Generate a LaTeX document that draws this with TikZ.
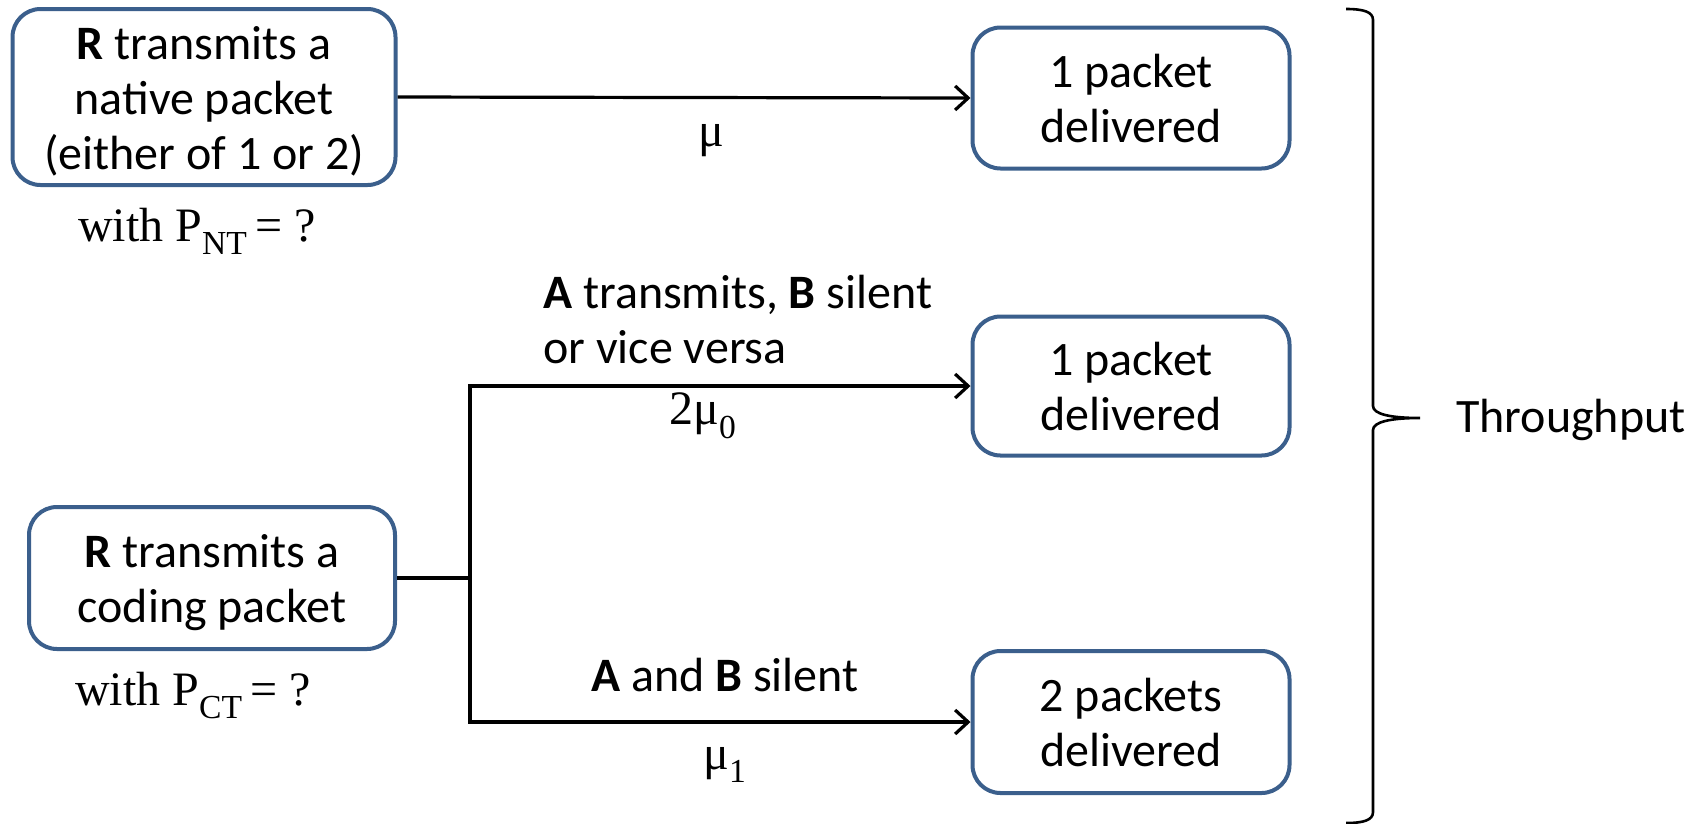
\documentclass[tikz,border=0pt]{standalone}
\usepackage{fontspec}
\setmainfont{Carlito}
\newfontfamily\tms{Liberation Serif}
\usetikzlibrary{arrows.meta}
\definecolor{boxblue}{HTML}{3B5F8C}
% taller first line, keeps the lines centred like the outcome boxes
\newcommand{\firstline}{\rule{0pt}{42pt}}

\tikzset{
  stepbox/.style={draw=boxblue, line width=4pt, rounded corners=28pt,
    fill=white, align=center, inner sep=0pt,
    font=\fontsize{48}{55}\selectfont},
  flow/.style={line width=3.2pt, line join=miter},
  arr/.style={flow, -{Straight Barb[length=13pt,width=24pt,line width=3.2pt]}},
  lbl/.style={font=\fontsize{48}{55}\selectfont, inner sep=0pt},
  mlbl/.style={font=\tms\fontsize{48}{55}\selectfont, inner sep=0pt},
  brace/.style={line width=2.6pt}
}

\begin{document}
\begin{tikzpicture}[x=1pt,y=-1pt]
\useasboundingbox (0,0) rectangle (1702,823);

% source boxes
\node[stepbox, minimum width=383pt, minimum height=176pt] (nt) at (204,97)
  {\firstline\textbf{R} transmits a\\native packet\\(either of 1 or 2)};
\node[stepbox, minimum width=366pt, minimum height=142pt] (ct) at (212,578)
  {\firstline\textbf{R} transmits a\\coding packet};

% outcome boxes
\node[stepbox, minimum width=317pt, minimum height=141pt] (o1) at (1131,98)
  {1 packet\\delivered};
\node[stepbox, minimum width=317pt, minimum height=139pt] (o2) at (1131,386)
  {1 packet\\delivered};
\node[stepbox, minimum width=317pt, minimum height=142pt] (o3) at (1131,722)
  {2 packets\\delivered};

% probabilities under the source boxes
\node[mlbl, anchor=base] (pnt) at (197,241) {with P\textsubscript{NT}\,= ?};
\node[mlbl, anchor=base] (pct) at (193,705) {with P\textsubscript{CT}\,= ?};

% connectors
\coordinate (j) at (470,578);
\draw[arr] (nt.east) -- (o1.west);
\draw[flow] (ct.east) -- (j);
\draw[arr] (j) |- (o2.west);
\draw[arr] (j) |- (o3.west);

% connector labels
\node[mlbl] (mu) at (711,141) {μ};
\node[lbl, anchor=west, align=left] (ab) at (543,320)
  {\textbf{A} transmits, \textbf{B} silent\\or vice versa};
\node[mlbl] (mu0) at (703,416) {2μ\textsubscript{0}};
\node[lbl] (sil) at (725,675) {\textbf{A} and \textbf{B} silent};
\node[mlbl] (mu1) at (725,765) {μ\textsubscript{1}};

% brace gathering the outcomes
\draw[brace] (1346,9) .. controls (1364,9) and (1373,12) .. (1373,20)
  -- (1373,406) .. controls (1373,414) and (1390,418) .. (1420,418)
  .. controls (1390,418) and (1373,422) .. (1373,430)
  -- (1373,812) .. controls (1373,820) and (1364,823) .. (1346,823);
\node[lbl, anchor=base west] (tp) at (1456,432) {Throughput};
\end{tikzpicture}
\end{document}
